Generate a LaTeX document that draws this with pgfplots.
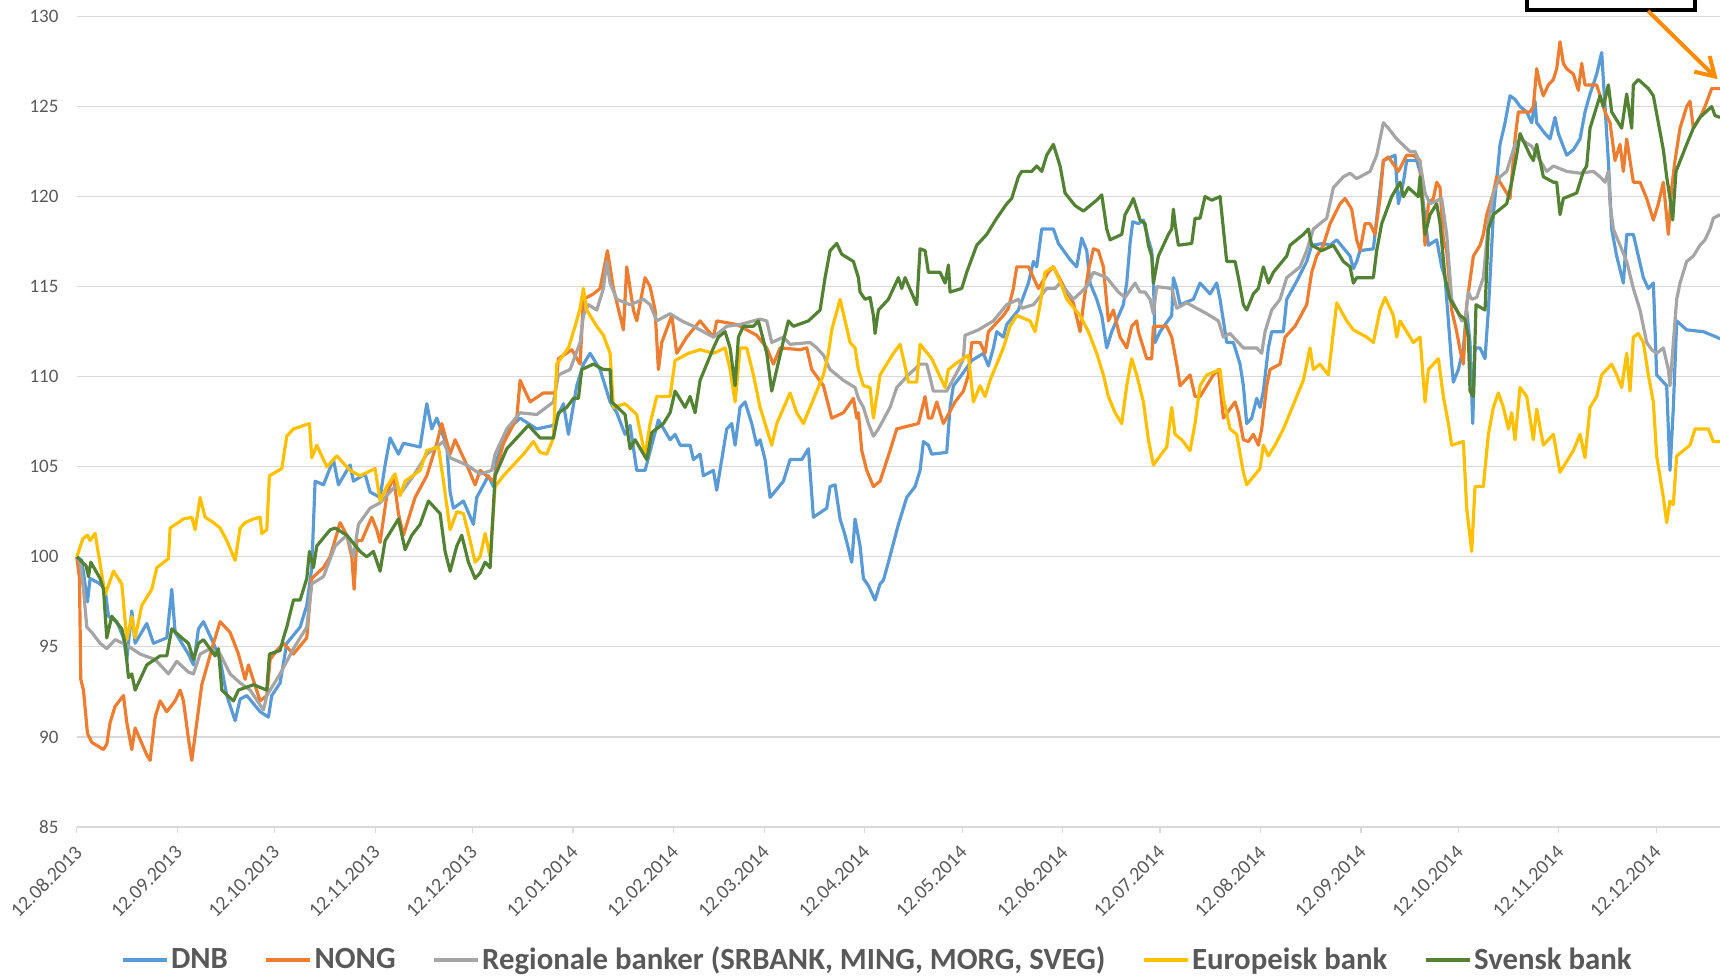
\documentclass[border=0pt]{standalone}
\usepackage{pgfplots}
\pgfplotsset{compat=1.18}
\usepackage{fontspec}
\setmainfont{Carlito}
\usetikzlibrary{arrows.meta}
\definecolor{cDNB}{HTML}{5B9BD5}
\definecolor{cNONG}{HTML}{ED7D31}
\definecolor{cREG}{HTML}{A5A5A5}
\definecolor{cEUR}{HTML}{FFC000}
\definecolor{cSVE}{HTML}{548235}
\definecolor{cGrid}{HTML}{D9D9D9}
\definecolor{cText}{HTML}{595959}
\definecolor{cArrow}{HTML}{FF8C00}
\begin{document}
\begin{tikzpicture}
\begin{axis}[
  scale only axis, width=821.6pt, height=405.25pt,
  xmin=230, xmax=5160, ymin=85, ymax=130,
  axis line style={draw=none},
  ytick={85,90,...,130},
  ymajorgrids, grid style={cGrid, line width=0.6pt},
  y tick style={draw=none},
  xtick={230,531.6,823.5,1125.2,1417.1,1718.7,2020.3,2292.8,2594.4,2886.3,3187.9,3479.8,3781.5,4083.1,4375,4676.6,4968.5},
  xticklabels={12.08.2013,12.09.2013,12.10.2013,12.11.2013,12.12.2013,12.01.2014,12.02.2014,12.03.2014,12.04.2014,12.05.2014,12.06.2014,12.07.2014,12.08.2014,12.09.2014,12.10.2014,12.11.2014,12.12.2014},
  xtick pos=bottom, tick align=outside,
  major tick length=3pt,
  x tick style={draw=cGrid, line width=0.6pt},
  /pgf/number format/assume math mode=true,
  yticklabel style={font=\fontsize{9.5}{11}\selectfont, text=cText, inner sep=0pt, xshift=-6pt},
  xticklabel style={font=\fontsize{10}{12}\selectfont, text=cText, rotate=45, anchor=north east, inner sep=0pt, xshift=-5.05pt, yshift=-2.75pt},
  clip=false,
  no markers,
  every axis plot/.append style={line width=1.6pt, line join=round},
  legend columns=5,
  legend style={at={(0.487,-0.164)}, anchor=center, draw=none, fill=none,
    font=\fontsize{15.4}{17}\bfseries\selectfont, text=cText,
    /tikz/every even column/.append style={column sep=17pt},
    nodes={inner sep=1pt}},
  legend image code/.code={\draw[#1, line width=2.3pt] (0pt,0pt) -- (22pt,0pt);},
]
% DNB
\addplot[cDNB] table {
230 100.0
245 99.8
262 97.5
270 98.8
300 98.5
315 98.2
325 96.7
350 96.4
370 95.5
380 94.3
395 97.0
405 95.2
440 96.3
460 95.2
500 95.5
515 98.2
525 95.8
565 94.6
580 94.0
595 96.0
610 96.4
640 95.2
660 94.3
680 92.3
705 90.9
720 92.1
740 92.3
780 91.4
805 91.1
815 92.3
840 93.0
860 95.2
900 96.1
920 97.3
935 99.4
945 104.2
970 104.0
1000 105.4
1015 104.0
1050 105.1
1060 104.2
1095 104.6
1110 103.6
1140 103.3
1155 105.1
1170 106.6
1195 105.7
1210 106.3
1260 106.1
1280 108.5
1295 107.1
1310 107.7
1340 106.2
1350 103.6
1360 102.7
1390 103.1
1420 101.8
1430 103.3
1465 104.5
1480 103.9
1490 105.4
1525 107.1
1560 107.7
1610 107.1
1660 107.3
1690 108.5
1705 106.8
1730 109.5
1750 110.7
1770 111.3
1800 110.4
1830 108.6
1850 108.0
1875 106.8
1890 107.3
1910 104.8
1935 104.8
1955 106.2
1975 107.6
2010 106.5
2025 106.8
2040 106.2
2070 106.2
2080 105.4
2100 105.7
2110 104.5
2140 104.8
2150 103.7
2165 105.4
2180 107.1
2195 107.4
2205 106.2
2220 108.3
2235 108.6
2255 107.4
2270 106.2
2280 106.5
2295 105.4
2310 103.3
2350 104.2
2370 105.4
2405 105.4
2425 106.0
2440 102.2
2480 102.7
2490 103.9
2505 104.0
2520 102.1
2535 101.2
2555 99.7
2565 102.1
2580 100.6
2590 98.8
2605 98.4
2625 97.6
2640 98.5
2650 98.7
2665 99.7
2695 101.8
2720 103.3
2745 103.9
2760 104.8
2770 106.4
2785 106.2
2795 105.7
2840 105.8
2850 108.3
2860 109.5
2885 110.1
2915 110.9
2950 111.3
2965 110.6
2980 111.6
2990 112.5
3010 112.2
3020 112.9
3055 113.7
3085 115.2
3100 116.4
3110 116.1
3125 118.2
3160 118.2
3175 117.4
3210 116.5
3230 116.1
3245 117.7
3260 117.0
3270 115.2
3290 114.3
3305 113.4
3320 111.6
3335 112.5
3370 114.0
3380 115.2
3390 117.4
3398 118.6
3415 118.5
3430 118.7
3445 117.6
3455 117.0
3460 115.5
3465 111.9
3480 112.5
3515 113.4
3520 115.5
3530 114.9
3540 114.0
3580 114.3
3600 115.2
3630 114.6
3650 115.2
3660 114.3
3680 111.9
3700 111.9
3720 110.7
3730 109.5
3740 107.4
3755 107.7
3770 108.8
3780 108.3
3790 109.2
3805 111.6
3815 112.5
3850 112.5
3860 114.3
3890 115.3
3920 116.4
3935 117.3
3970 117.4
3990 117.3
4010 117.6
4050 116.7
4060 116.0
4070 116.4
4080 117.0
4120 117.1
4135 119.6
4150 122.0
4185 122.3
4195 119.6
4210 120.8
4220 122.0
4250 122.0
4260 121.4
4270 119.6
4285 117.3
4310 117.6
4325 116.1
4335 115.5
4345 113.1
4355 110.7
4360 109.7
4375 110.4
4390 111.6
4400 113.7
4410 111.9
4418 107.4
4425 111.6
4440 111.6
4455 111.0
4465 113.7
4480 119.0
4500 122.9
4515 124.1
4530 125.6
4545 125.4
4560 125.0
4580 124.7
4595 124.1
4605 125.3
4610 124.1
4635 123.5
4650 123.2
4665 124.4
4675 123.5
4700 122.3
4720 122.6
4740 123.2
4755 124.7
4770 125.7
4790 126.8
4805 128.0
4815 125.0
4825 122.0
4835 118.2
4850 116.7
4870 115.2
4880 117.9
4900 117.9
4915 116.7
4930 115.5
4945 114.9
4960 115.2
4970 110.1
5000 109.5
5010 104.8
5020 108.3
5030 113.1
5060 112.6
5110 112.5
5150 112.2
5160 112.1
};
\addlegendentry{DNB}
% NONG
\addplot[cNONG] table {
230 100.0
238 98.8
242 93.2
250 92.6
262 90.2
275 89.7
310 89.3
320 89.6
330 90.8
345 91.7
370 92.3
380 90.8
395 89.3
405 90.5
440 89.0
450 88.7
465 91.1
480 92.0
500 91.4
525 92.0
540 92.6
550 92.0
565 89.9
575 88.7
590 90.8
605 92.9
640 95.2
660 96.4
690 95.8
715 94.6
735 93.2
745 94.0
780 92.0
800 92.3
810 94.3
830 94.8
850 95.2
880 94.6
920 95.5
935 98.8
970 99.4
990 100.0
1020 101.9
1040 101.2
1055 100.0
1062 98.2
1070 100.9
1085 100.9
1115 102.2
1130 101.5
1140 100.8
1160 103.4
1180 104.5
1195 102.4
1210 101.2
1245 103.3
1280 104.5
1310 106.3
1325 107.4
1350 105.7
1365 106.5
1400 105.1
1425 104.0
1440 104.8
1480 104.2
1510 106.3
1550 107.7
1560 109.8
1590 108.6
1630 109.1
1665 109.1
1675 111.0
1715 111.5
1740 110.7
1750 114.3
1780 114.6
1800 114.9
1822 117.0
1840 114.9
1870 112.6
1880 116.1
1900 113.7
1910 113.1
1935 115.5
1950 115.0
1965 113.7
1975 110.4
1985 111.9
2015 113.4
2030 111.3
2060 112.2
2100 113.1
2140 112.2
2150 113.1
2210 112.9
2270 112.3
2300 111.6
2320 110.7
2340 111.6
2400 111.5
2420 111.6
2435 110.4
2470 109.5
2495 107.7
2530 108.0
2560 108.8
2570 107.7
2575 108.0
2585 105.9
2600 104.8
2620 103.9
2640 104.2
2670 105.9
2690 107.1
2755 107.4
2775 108.9
2785 107.7
2795 107.7
2810 108.6
2830 107.4
2865 108.6
2890 109.2
2905 110.1
2915 111.9
2940 111.9
2955 111.3
2965 112.5
3010 113.4
3025 113.8
3040 114.9
3050 116.1
3085 116.1
3115 114.9
3145 115.8
3160 116.1
3200 114.7
3220 114.1
3240 112.5
3250 114.0
3265 115.9
3280 117.1
3295 117.0
3310 116.1
3325 113.1
3340 113.7
3360 112.2
3380 111.6
3395 112.8
3410 113.1
3415 112.5
3440 111.0
3455 111.0
3460 112.8
3500 112.8
3515 112.2
3530 110.7
3540 109.5
3570 110.1
3585 108.9
3600 108.9
3640 110.1
3655 110.4
3670 107.7
3705 108.6
3715 108.0
3730 106.5
3745 106.4
3760 106.8
3775 106.2
3785 107.1
3800 109.5
3810 110.4
3840 110.7
3855 112.2
3885 112.8
3920 114.0
3935 115.8
3950 116.7
3970 117.3
3990 118.5
4020 119.6
4035 119.9
4055 119.3
4070 117.6
4080 117.0
4095 118.5
4110 118.5
4125 117.9
4140 119.9
4150 122.0
4165 122.2
4195 121.4
4220 122.3
4240 122.3
4260 122.0
4275 117.3
4285 119.6
4300 119.9
4310 120.8
4320 120.5
4330 117.6
4340 117.0
4355 113.7
4370 112.5
4380 111.5
4390 110.7
4400 114.0
4420 116.7
4440 117.3
4450 117.9
4460 119.0
4480 120.2
4490 121.1
4500 120.8
4530 119.9
4545 123.2
4555 124.7
4590 124.7
4600 125.0
4610 127.1
4620 126.2
4630 125.6
4645 126.2
4660 126.5
4670 127.1
4680 128.6
4690 127.4
4700 127.1
4720 126.8
4735 125.9
4745 127.4
4755 126.2
4790 126.2
4800 125.6
4815 124.7
4830 124.1
4845 122.0
4860 122.9
4870 121.4
4880 123.2
4900 120.8
4920 120.8
4940 119.9
4960 118.7
4975 119.6
4990 120.8
5005 117.9
5015 120.5
5025 122.0
5040 123.8
5060 125.0
5070 125.3
5080 123.8
5100 124.4
5115 125.0
5135 126.0
5160 126.0
};
\addlegendentry{NONG}
% Regionale banker
\addplot[cREG] table {
230 100.0
240 99.7
250 98.2
260 96.1
275 95.8
300 95.2
320 94.9
345 95.4
380 95.1
420 94.6
465 94.3
505 93.5
530 94.2
565 93.6
580 93.5
600 94.6
630 94.9
660 94.6
690 93.5
720 93.0
750 92.6
790 91.5
800 92.3
840 93.5
880 94.9
920 96.1
935 98.5
970 98.9
1005 100.6
1040 101.2
1060 100.0
1075 101.8
1110 102.7
1140 103.0
1185 103.9
1205 103.6
1240 104.5
1280 105.7
1330 106.4
1350 105.5
1400 105.1
1440 104.6
1475 104.8
1485 105.7
1520 107.1
1560 108.0
1610 107.9
1660 108.6
1675 110.1
1710 110.4
1740 111.9
1750 113.4
1765 114.0
1790 113.7
1810 114.9
1820 116.4
1830 115.2
1850 114.3
1890 114.0
1930 114.3
1950 114.0
1970 113.1
2010 113.5
2045 113.1
2080 112.8
2120 112.4
2140 112.2
2180 112.8
2220 112.9
2280 113.2
2300 113.1
2315 111.9
2350 112.2
2370 111.8
2430 111.9
2450 111.6
2470 111.2
2490 110.4
2530 109.8
2565 109.4
2575 108.8
2590 108.3
2605 107.4
2620 106.7
2635 107.1
2670 108.3
2690 109.4
2725 110.1
2760 110.7
2780 110.7
2800 109.2
2840 109.2
2875 110.4
2890 111.0
2895 112.3
2935 112.6
2980 113.1
3020 114.0
3055 114.3
3065 113.8
3100 114.0
3140 114.9
3165 114.9
3180 115.2
3220 114.3
3260 115.0
3280 115.8
3320 115.5
3355 114.7
3375 114.4
3405 115.2
3420 114.7
3435 114.7
3450 114.3
3460 113.5
3470 115.0
3515 114.9
3530 113.8
3560 114.1
3620 113.5
3655 113.1
3670 112.2
3690 112.4
3730 111.6
3770 111.6
3785 111.3
3795 112.5
3815 113.7
3840 114.3
3860 115.5
3900 116.1
3920 117.0
3940 118.2
3980 118.8
4000 120.5
4030 121.1
4050 121.3
4070 121.0
4110 121.4
4130 122.3
4150 124.1
4165 123.8
4190 123.2
4230 122.5
4245 122.5
4260 121.9
4275 120.2
4290 119.6
4325 119.9
4340 117.9
4355 114.3
4385 113.1
4395 113.1
4405 114.7
4415 114.3
4430 114.4
4450 115.5
4465 118.5
4480 120.2
4500 121.1
4520 121.4
4545 122.9
4560 123.2
4595 122.8
4620 122.0
4640 121.4
4660 121.7
4700 121.4
4740 121.3
4780 121.4
4800 121.1
4815 120.8
4825 121.4
4830 119.6
4840 118.2
4860 117.3
4880 116.4
4900 114.9
4920 113.7
4940 111.9
4955 111.5
4970 111.3
4990 111.6
5005 110.4
5010 109.5
5020 111.9
5030 114.3
5040 115.2
5060 116.4
5080 116.7
5100 117.3
5115 117.6
5130 118.2
5140 118.8
5160 119.0
};
\addlegendentry{Regionale banker (SRBANK, MING, MORG, SVEG)}
% Europeisk bank
\addplot[cEUR] table {
230 100.0
248 101.0
262 101.2
270 100.9
285 101.3
315 97.9
340 99.2
365 98.5
380 95.4
395 96.7
405 95.5
425 97.3
455 98.2
470 99.4
505 99.9
510 101.6
550 102.1
575 102.2
585 101.5
600 103.3
615 102.2
640 101.9
660 101.6
680 100.9
705 99.8
720 101.6
735 101.9
760 102.1
780 102.2
785 101.3
800 101.5
808 104.5
845 104.9
860 106.7
880 107.1
928 107.4
935 105.5
950 106.2
980 105.0
1010 105.6
1050 104.8
1080 104.5
1125 104.9
1140 103.1
1160 103.9
1185 104.6
1200 103.4
1215 104.2
1260 104.8
1280 105.9
1315 106.1
1330 104.2
1350 101.5
1370 102.5
1390 102.4
1410 100.9
1425 99.7
1440 100.0
1455 101.3
1470 100.0
1485 103.9
1510 104.5
1540 105.1
1570 105.7
1600 106.4
1620 105.8
1640 105.7
1660 106.6
1670 110.7
1705 111.6
1725 112.8
1740 113.8
1750 114.9
1760 113.7
1790 112.8
1810 112.3
1830 111.3
1840 108.3
1875 108.5
1910 107.9
1935 105.6
1950 107.4
1970 108.9
2010 108.9
2025 110.9
2065 111.3
2100 111.5
2140 111.3
2175 111.6
2190 110.4
2205 108.6
2220 111.6
2240 111.6
2260 110.1
2280 108.3
2315 106.2
2330 107.4
2370 109.1
2390 108.0
2410 107.4
2430 108.3
2470 110.1
2485 111.3
2495 112.6
2520 114.3
2550 111.9
2565 111.6
2575 110.4
2590 109.5
2610 109.4
2620 107.7
2640 110.1
2660 110.7
2680 111.3
2700 111.8
2710 111.0
2725 109.7
2750 109.7
2760 111.8
2795 111.0
2820 110.0
2835 109.4
2845 110.4
2865 110.7
2905 111.2
2920 108.6
2940 109.5
2955 108.9
2970 109.8
2990 110.7
3010 111.6
3030 112.8
3050 113.4
3090 113.1
3105 112.5
3120 114.0
3135 115.8
3160 116.1
3180 115.3
3200 114.3
3240 113.4
3265 112.5
3290 111.3
3310 110.1
3325 108.9
3345 108.0
3365 107.4
3380 109.5
3395 111.0
3410 110.1
3430 108.6
3445 106.5
3460 105.1
3480 105.6
3500 106.1
3515 108.3
3525 106.8
3545 106.5
3570 105.9
3585 107.4
3600 109.5
3620 110.1
3660 110.4
3670 108.8
3690 107.1
3710 106.8
3730 104.7
3740 104.0
3780 104.9
3790 106.2
3805 105.6
3825 106.2
3850 107.1
3870 108.0
3890 108.9
3910 109.8
3930 111.6
3940 110.4
3960 110.7
3985 110.1
4000 112.5
4010 114.1
4040 113.1
4060 112.6
4100 112.2
4120 111.9
4140 113.7
4155 114.4
4180 113.4
4190 112.2
4200 113.1
4220 112.5
4240 111.9
4260 112.2
4275 108.6
4285 110.4
4315 111.0
4330 108.9
4345 107.4
4355 106.2
4390 106.4
4400 102.7
4415 100.3
4425 103.9
4450 103.9
4465 106.8
4480 108.3
4495 109.1
4510 108.3
4525 107.1
4535 108.0
4545 106.5
4560 109.4
4580 108.9
4600 106.5
4610 108.2
4630 106.2
4660 106.8
4680 104.7
4720 105.9
4740 106.8
4755 105.5
4770 108.3
4790 108.9
4805 110.1
4835 110.7
4850 110.1
4865 109.4
4880 111.3
4890 109.2
4900 112.2
4915 112.4
4930 111.9
4945 110.1
4960 108.6
4970 105.6
4990 103.3
5000 101.9
5010 103.1
5020 102.9
5030 105.6
5050 105.9
5070 106.2
5085 107.1
5125 107.1
5140 106.4
5160 106.4
};
\addlegendentry{Europeisk bank}
% Svensk bank
\addplot[cSVE] table {
230 100.0
258 99.5
265 98.9
272 99.7
300 98.8
310 98.2
320 95.5
335 96.7
365 96.0
375 95.2
385 93.3
395 93.5
405 92.6
440 94.0
480 94.5
500 94.5
515 96.0
545 95.5
565 95.2
580 94.3
595 95.2
610 95.4
645 94.5
655 94.9
665 92.6
700 92.0
715 92.6
760 92.9
800 92.6
808 94.6
840 94.8
850 95.5
860 96.1
880 97.6
900 97.6
920 98.8
928 100.3
940 99.4
950 100.6
990 101.5
1005 101.6
1040 101.2
1080 100.3
1100 100.0
1120 100.3
1140 99.2
1155 100.9
1195 102.1
1215 100.4
1235 101.2
1260 101.8
1285 103.1
1320 102.4
1335 100.3
1350 99.2
1370 100.6
1385 101.2
1405 99.7
1425 98.8
1440 99.1
1455 99.7
1470 99.4
1485 104.5
1520 106.0
1560 106.8
1585 107.3
1620 106.6
1660 106.6
1675 108.0
1700 108.3
1720 108.8
1735 108.8
1745 110.4
1780 110.7
1810 110.4
1830 110.4
1835 108.6
1875 107.9
1890 106.0
1905 106.5
1940 105.4
1955 106.9
1990 107.4
2010 108.0
2025 109.2
2055 108.3
2070 108.9
2085 108.0
2100 109.8
2140 111.6
2155 112.2
2175 112.5
2190 111.6
2205 109.5
2215 112.2
2230 112.8
2260 112.8
2275 113.1
2300 111.3
2315 109.2
2350 112.0
2365 113.1
2380 112.8
2425 113.1
2460 113.7
2475 115.5
2490 117.0
2510 117.4
2525 116.8
2560 116.4
2575 115.5
2580 114.7
2595 114.3
2610 114.4
2620 113.4
2625 112.4
2635 113.7
2665 114.3
2695 115.5
2705 114.9
2715 115.5
2750 114.0
2760 117.1
2775 117.0
2785 115.8
2820 115.8
2835 115.2
2845 116.2
2850 114.7
2885 114.9
2900 115.8
2930 117.3
2960 117.9
2990 118.8
3020 119.6
3035 119.9
3055 121.1
3065 121.4
3095 121.4
3110 121.7
3125 121.4
3140 122.3
3160 122.9
3180 121.7
3195 120.2
3225 119.5
3250 119.2
3290 119.8
3305 120.1
3320 118.2
3330 117.6
3365 117.9
3375 119.0
3390 119.5
3400 119.9
3415 119.0
3420 118.7
3435 118.5
3445 117.3
3455 116.7
3460 115.2
3475 116.7
3505 117.9
3515 118.2
3520 119.3
3525 118.5
3535 117.3
3575 117.4
3585 118.8
3600 118.8
3615 120.0
3635 119.8
3660 120.0
3680 116.4
3705 116.4
3715 115.5
3730 114.0
3740 113.7
3760 114.6
3775 114.9
3790 116.1
3805 115.2
3820 115.8
3860 116.7
3870 117.3
3910 117.9
3925 118.2
3935 117.3
3965 117.0
4000 117.3
4030 116.4
4050 116.1
4060 115.2
4070 115.5
4120 115.5
4130 117.0
4145 118.5
4175 120.0
4200 120.8
4210 120.0
4225 120.5
4255 120.0
4260 121.1
4275 117.9
4290 119.0
4310 119.6
4320 118.5
4335 115.5
4350 114.3
4380 113.4
4395 113.2
4405 112.2
4410 109.2
4420 108.9
4428 114.0
4455 113.7
4465 118.2
4480 119.0
4520 119.6
4535 120.8
4550 122.3
4560 123.5
4575 122.9
4590 122.3
4600 122.0
4610 122.9
4630 121.1
4660 120.8
4670 120.8
4680 119.0
4690 119.9
4730 120.2
4750 121.4
4760 121.7
4770 123.8
4785 124.7
4800 125.6
4810 125.0
4825 126.2
4835 124.7
4865 123.8
4880 125.7
4895 123.8
4900 126.2
4915 126.5
4945 126.0
4960 125.6
4975 124.1
4990 122.6
5000 121.1
5010 119.9
5018 118.7
5028 121.4
5060 122.9
5080 123.8
5100 124.4
5135 125.0
5145 124.5
5160 124.4
};
\addlegendentry{Svensk bank}
\coordinate (SW) at (rel axis cs:0,0);
\coordinate (NE) at (rel axis cs:1,1);
% annotation box (cut off at the top) and arrow
\draw[black, line width=1.65pt] (rel axis cs:0.8826,1.06) -- (rel axis cs:0.8826,1.008) -- (rel axis cs:0.9848,1.008) -- (rel axis cs:0.9848,1.06);
\draw[cArrow, line width=2pt, -{Straight Barb[length=9pt,width=11pt]}] (rel axis cs:0.9562,1.0068) -- (rel axis cs:0.9985,0.9227);
\end{axis}
\pgfresetboundingbox
\useasboundingbox ([shift={(-38.4pt,-76pt)}]SW) rectangle ([shift={(0pt,8.25pt)}]NE);
\end{tikzpicture}
\end{document}
